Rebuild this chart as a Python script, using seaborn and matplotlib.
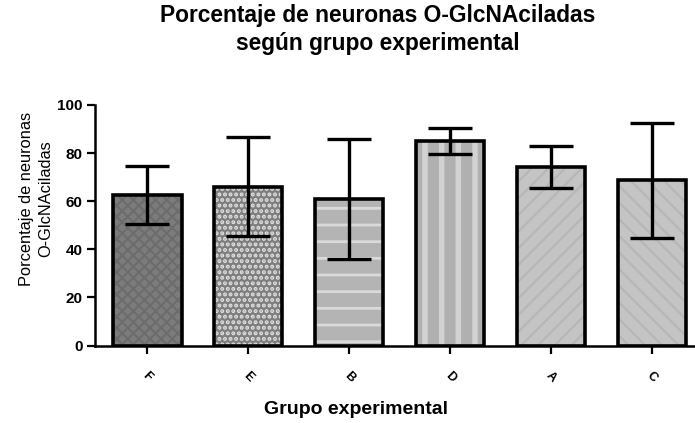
import seaborn as sns
import matplotlib.pyplot as plt
import pandas as pd
import numpy as np

# values
groups = ['F', 'E', 'B', 'D', 'A', 'C']
means = [62.5, 66.0, 61.0, 85.0, 74.3, 68.6]
errs = [12.1, 20.6, 24.9, 5.6, 8.7, 23.8]

face_colors = ['#7c7c7c', '#7e7e7e', '#b4b4b4', '#b0b0b0', '#c4c4c4', '#c4c4c4']
hatch_colors = ['#6c6c6c', '#e0e0e0', '#dadada', '#d2d2d2', '#b6b6b6', '#b6b6b6']
hatches = ['xxx', '...', '-', '|', '//', '\\\\']
hatch_widths = [1.5, 2.0, 2.0, 4.0, 1.5, 1.5]

df = pd.DataFrame({'grupo': groups, 'pct': means})

sns.set_theme(style='ticks')
plt.rcParams['font.family'] = ['Liberation Sans', 'DejaVu Sans']
plt.rcParams['text.color'] = 'black'
plt.rcParams['axes.labelcolor'] = 'black'
plt.rcParams['xtick.color'] = 'black'
plt.rcParams['ytick.color'] = 'black'
plt.rcParams['hatch.linewidth'] = 2.0

fig = plt.figure(figsize=(6.95, 4.23), dpi=100)
ax = fig.add_axes([0.137, 0.183, 0.863, 0.569])

# filled, hatched bars
sns.barplot(data=df, x='grupo', y='pct', ax=ax, width=0.68, linewidth=0,
            palette=face_colors, hue='grupo', legend=False, saturation=1)
for p, h, hc, hw in zip(ax.patches, hatches, hatch_colors, hatch_widths):
    p.set_hatch(h)
    p.set_edgecolor(hc)
    p.set_linewidth(0)
    if hasattr(p, 'set_hatch_linewidth'):
        p.set_hatch_linewidth(hw)

# black outlines on top
sns.barplot(data=df, x='grupo', y='pct', ax=ax, width=0.68, fill=False,
            edgecolor='black', linewidth=2.6)

ax.errorbar(x=np.arange(len(groups)), y=means, yerr=errs, fmt='none',
            ecolor='black', elinewidth=2.4, capsize=16, capthick=2.4, zorder=5)

ax.set_ylim(0, 100)
ax.set_xlim(-0.515, 5.426)
ax.set_yticks([0, 20, 40, 60, 80, 100])
sns.despine(ax=ax)
for s in ['left', 'bottom']:
    ax.spines[s].set_linewidth(1.8)
    ax.spines[s].set_color('black')
ax.tick_params(axis='both', direction='out', length=6, width=1.6, color='black',
               labelsize=11, pad=3)
ax.set_xticks(range(len(groups)))
ax.set_xticklabels(groups, rotation=-45, ha='center', fontweight='bold', fontsize=9)
for t in ax.get_yticklabels():
    t.set_fontweight('bold')
ax.tick_params(axis='x', pad=11)

ax.set_xlabel('Grupo experimental', fontsize=14, fontweight='bold')
ax.xaxis.set_label_coords(0.435, -0.23)
ax.set_ylabel('Porcentaje de neuronas\nO-GlcNAciladas', fontsize=11.8,
              linespacing=1.35)
ax.yaxis.set_label_coords(-0.07, 0.61)
fig.suptitle('Porcentaje de neuronas O-GlcNAciladas\nsegún grupo experimental',
             fontsize=16.4, fontweight='bold', x=0.543, y=0.99, linespacing=1.25)

fig.savefig('out.png', dpi=100)
